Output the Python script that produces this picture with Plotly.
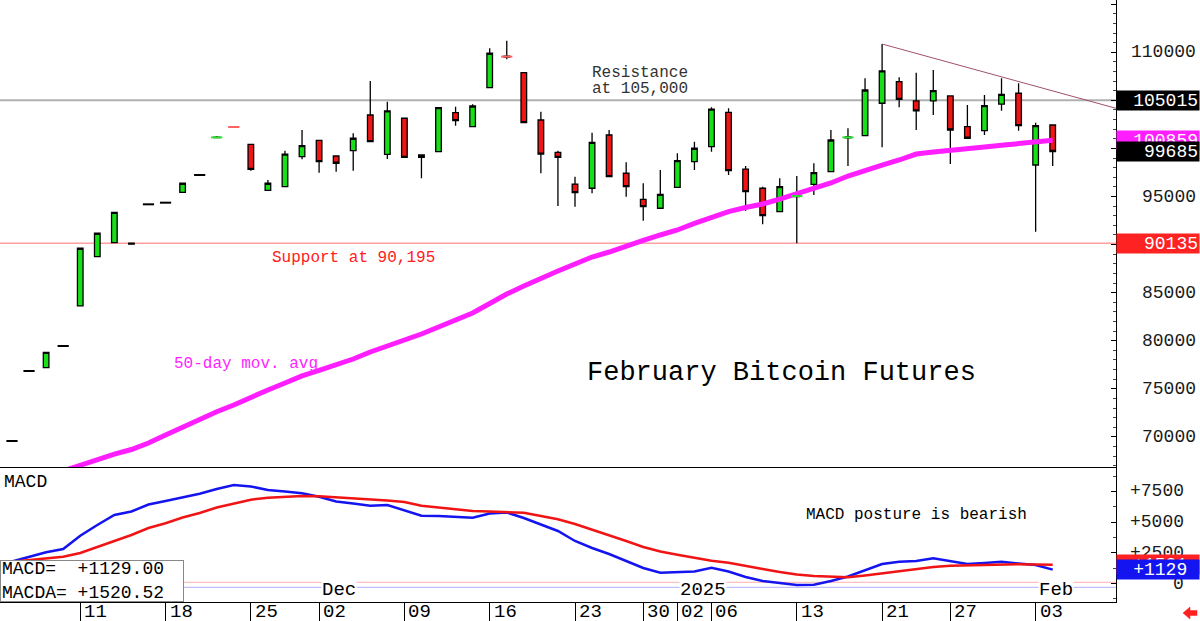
import plotly.graph_objects as go

# ---------------- data ----------------
dates = ["2024-11-05", "2024-11-06", "2024-11-07", "2024-11-08",
         "2024-11-11", "2024-11-12", "2024-11-13", "2024-11-14", "2024-11-15",
         "2024-11-18", "2024-11-19", "2024-11-20", "2024-11-21", "2024-11-22",
         "2024-11-25", "2024-11-26", "2024-11-27", "2024-11-29",
         "2024-12-02", "2024-12-03", "2024-12-04", "2024-12-05", "2024-12-06",
         "2024-12-09", "2024-12-10", "2024-12-11", "2024-12-12", "2024-12-13",
         "2024-12-16", "2024-12-17", "2024-12-18", "2024-12-19", "2024-12-20",
         "2024-12-23", "2024-12-24", "2024-12-26", "2024-12-27",
         "2024-12-30", "2024-12-31", "2025-01-02", "2025-01-03",
         "2025-01-06", "2025-01-07", "2025-01-08", "2025-01-09", "2025-01-10",
         "2025-01-13", "2025-01-14", "2025-01-15", "2025-01-16", "2025-01-17",
         "2025-01-21", "2025-01-22", "2025-01-23", "2025-01-24",
         "2025-01-27", "2025-01-28", "2025-01-29", "2025-01-30", "2025-01-31",
         "2025-02-03", "2025-02-04"]

opens = [69575, 76855, 77200, 79455,
         83620, 88740, 90200, 90150, 94190,
         94360, 95440, 97240, 101120, 102240,
         100430, 95650, 96020, 99140,
         100850, 99215, 99770, 103480, 99390,
         103140, 99320, 99660, 103720, 102260,
         106320, 109600, 107880, 102960, 99600,
         96300, 95860, 101400, 97420,
         94710, 93780, 95960, 98620,
         100180, 103760, 97860, 95860, 93420,
         95000, 96270, 97580, 101100, 101330,
         104700, 106940, 104940, 104940,
         105460, 102260, 101850, 104620, 105740,
         98280, 102440]
highs = [69575, 76855, 78800, 79455,
         89700, 91180, 93360, 90150, 94190,
         94360, 96380, 97240, 101300, 102250,
         100430, 96720, 99770, 101920,
         100850, 99215, 101580, 107015, 104860,
         103140, 99320, 104240, 104340, 104590,
         110420, 111200, 107880, 103820, 99770,
         97060, 101640, 101920, 98560,
         96380, 97760, 99500, 100700,
         104280, 104180, 98180, 96020, 96900,
         97140, 98460, 101920, 102100, 107300,
         110860, 107400, 107880, 108160,
         105460, 104520, 105560, 107300, 106780,
         102680, 102440]
lows = [69575, 76855, 77200, 79455,
        83620, 88740, 90200, 90030, 94190,
        94360, 95440, 97240, 101120, 102210,
        97690, 95650, 96020, 98870,
        97480, 97580, 97690, 100700, 98900,
        99080, 96900, 99660, 102370, 102260,
        106320, 109270, 102680, 97420, 94020,
        93940, 95340, 97060, 94980,
        92490, 93780, 95960, 97760,
        99660, 97240, 93530, 92110, 93360,
        90135, 95160, 97580, 98180, 101330,
        100120, 104280, 101920, 103480,
        98380, 101060, 101400, 103930, 101850,
        91340, 98180]
closes = [69575, 76855, 78800, 79455,
          89620, 91180, 93360, 90050, 94190,
          94360, 96380, 97240, 101180, 102220,
          97830, 96380, 99420, 100290,
          98620, 98460, 101060, 100700, 103900,
          99080, 99080, 104240, 102890, 104415,
          109900, 109500, 102680, 99420, 99080,
          95400, 100640, 97060, 96020,
          93940, 95230, 98730, 100020,
          104100, 97690, 95500, 93010, 96020,
          95100, 97480, 100880, 101200, 106080,
          108060, 105110, 103900, 106010,
          101920, 101060, 104450, 105630, 102370,
          102370, 99685]

ma50 = [None, None, None, 66460,
        67080, 67650, 68220, 68690, 69370,
        70200, 71030, 71760, 72620, 73320,
        74150, 74880, 75610, 76340,
        76910, 77480, 78100, 78830, 79510,
        80080, 80700, 81430, 82160, 82890,
        83870, 84860, 85700, 86530, 87250,
        87980, 88710, 89230, 89880,
        90430, 91000, 91520, 92200,
        92870, 93440, 93860, 94220, 94740,
        95315, 95890, 96410, 97130, 97760,
        98270, 98800, 99420, 99630,
        99840, 99995, 100150, 100330, 100510,
        100620, 100859]

macd = [1791, 2157, 2540, 2808,
        3891, 4762, 5576, 5861, 6431,
        6716, 7000, 7310, 7692, 8018,
        7896, 7611, 7489, 7350,
        7066, 6675, 6512, 6333, 6390,
        5983, 5519, 5495, 5454, 5356,
        5698, 5779, 5332, 4803, 4274,
        3460, 2890, 2401, 1832,
        1262, 879, 912, 977,
        1286, 977, 529, 204, 41,
        -122, -98, 204, 570, 1099,
        1587, 1775, 1832, 2051,
        1832, 1587, 1669, 1775, 1628,
        1506, 1129.00]
macda = [1775, 1913, 2076, 2182,
         2483, 2971, 3435, 3948, 4518,
         4900, 5372, 5739, 6186, 6528,
         6821, 6984, 7057, 7123,
         7106, 7025, 6943, 6846, 6764,
         6634, 6333, 6186, 6040, 5902,
         5853, 5820, 5755, 5495, 5226,
         4843, 4396, 3948, 3460,
         2971, 2605, 2344, 2076,
         1856, 1693, 1465, 1180, 936,
         733, 611, 529, 505, 651,
         830, 1018, 1221, 1343,
         1441, 1481, 1530, 1571, 1563,
         1538, 1520.52]

resistance_level = 105015
support_level = 90135
trend_start = ("2025-01-21", 110860)
trend_end_price = 104176

price_ticks = [70000, 75000, 80000, 85000, 90000, 95000, 100000, 105000, 110000]
macd_ticks = [0, 2500, 5000, 7500]
macd_tick_labels = ["0", "+2500", "+5000", "+7500"]

week_tick_dates = ["2024-11-11", "2024-11-18", "2024-11-25", "2024-12-02", "2024-12-09",
                   "2024-12-16", "2024-12-23", "2024-12-30", "2025-01-02", "2025-01-06",
                   "2025-01-13", "2025-01-21", "2025-01-27", "2025-02-03"]
week_tick_labels = ["11", "18", "25", "02", "09", "16", "23", "30", "02", "06",
                    "13", "21", "27", "03"]
month_dates = ["2024-12-02", "2025-01-02", "2025-02-03"]
month_labels = ["Dec", "2025", "Feb"]

# ---------------- styling ----------------
MONO = "Liberation Mono, DejaVu Sans Mono, monospace"
GREEN = "#18e018"
RED = "#f01414"
MAG = "#ff1eff"
BLUE = "#1414f0"

n = len(dates)
xi = list(range(n))
X_MIN, X_MAX = -0.703, 64.71
Y_MIN, Y_MAX = 66871, 115439
M_MIN, M_MAX = -1506, 9483
SPLIT = (602 - 467) / 602

fig = go.Figure()

flat = [i for i in xi if highs[i] == lows[i]]
up = [i for i in xi if highs[i] != lows[i] and closes[i] >= opens[i]]
down = [i for i in xi if highs[i] != lows[i] and closes[i] < opens[i]]
doji_up = [i for i in up if closes[i] - opens[i] < 150]
doji_dn = [i for i in down if opens[i] - closes[i] < 150 and i != 7]


def candles(idx, fill):
    style = dict(fillcolor=fill, line=dict(color="black", width=1.3))
    return go.Candlestick(
        x=[xi[i] for i in idx], open=[opens[i] for i in idx],
        high=[highs[i] for i in idx], low=[lows[i] for i in idx],
        close=[closes[i] for i in idx], increasing=style, decreasing=style,
        whiskerwidth=0, showlegend=False, hoverinfo="skip", xaxis="x", yaxis="y")


fig.add_trace(go.Scatter(x=xi, y=ma50, mode="lines", line=dict(color=MAG, width=5),
                         hoverinfo="skip", xaxis="x", yaxis="y"))
fig.add_trace(candles(up, GREEN))
fig.add_trace(candles(down, RED))


def dashes(idx, color, size, width):
    return go.Scatter(x=[xi[i] for i in idx], y=[(opens[i] + closes[i]) / 2 for i in idx],
                      mode="markers", marker=dict(symbol="line-ew", size=size,
                                                  line=dict(color=color, width=width)),
                      hoverinfo="skip", xaxis="x", yaxis="y")


fig.add_trace(dashes(flat, "black", 8, 2))
fig.add_trace(dashes(doji_up, "#30e030", 8, 2))
fig.add_trace(dashes(doji_dn, "#ff6060", 8, 2))

fig.add_trace(go.Scatter(x=xi, y=macd, mode="lines", line=dict(color=BLUE, width=2.5),
                         hoverinfo="skip", xaxis="x2", yaxis="y2"))
fig.add_trace(go.Scatter(x=xi, y=macda, mode="lines", line=dict(color=RED, width=2.5),
                         hoverinfo="skip", xaxis="x2", yaxis="y2"))

shapes = [
    dict(type="line", xref="paper", x0=0, x1=1, yref="y", y0=resistance_level, y1=resistance_level,
         line=dict(color="#b0b0b0", width=2), layer="below"),
    dict(type="line", xref="paper", x0=0, x1=1, yref="y", y0=support_level, y1=support_level,
         line=dict(color="#ffa0a0", width=1.5), layer="below"),
    dict(type="line", xref="x", x0=dates.index(trend_start[0]), x1=X_MAX, yref="y",
         y0=trend_start[1], y1=trend_end_price, line=dict(color="#a0506a", width=1)),
    dict(type="line", xref="paper", x0=0, x1=1, yref="y2", y0=100, y1=100,
         line=dict(color="#ffb0b0", width=1), layer="below"),
    dict(type="line", xref="paper", x0=0, x1=1, yref="y2", y0=-310, y1=-310,
         line=dict(color="#b0b0ff", width=1), layer="below"),
    # small red "back" arrow in the bottom-right corner
    dict(type="path", xref="paper", xsizemode="pixel", xanchor=1190 / 1116,
         yref="paper", ysizemode="pixel", yanchor=0,
         path="M -7,-11 L 0,-5 L 0,-8.5 L 7,-8.5 L 7,-13.5 L 0,-13.5 L 0,-17 Z",
         fillcolor="#ff2020", line=dict(color="#ff2020", width=0.5)),
]

ann = []
txt = dict(showarrow=False)
# price axis labels
for v in price_ticks:
    ann.append(dict(xref="paper", x=1, xanchor="right", xshift=82, yref="y", y=v,
                    text=str(v), font=dict(family=MONO, size=18, color="#1a1a1a"), **txt))
for v, t in zip(macd_ticks, macd_tick_labels):
    ann.append(dict(xref="paper", x=1, xanchor="right", xshift=70, yref="y2", y=v,
                    text=t, font=dict(family=MONO, size=18, color="#1a1a1a"), **txt))


def box(val, yref, text, bg, trail=""):
    return dict(xref="paper", x=1, xanchor="left", xshift=0, yref=yref, y=val, yanchor="middle",
                text=text + trail, bgcolor=bg, width=80, height=17, align="right", borderpad=1,
                font=dict(family=MONO, size=18, color="white"), **txt)


ann.append(box(resistance_level, "y", str(resistance_level), "black"))
ann.append(box(support_level, "y", str(support_level), "#ff2222"))
ann.append(box(ma50[-1], "y", str(int(ma50[-1])), MAG))
ann.append(box(closes[-1], "y", str(closes[-1]), "black"))
ann.append(box(macda[-1], "y2", "%+d" % round(macda[-1]), "#ff2222", "\u00a0"))
ann.append(box(macd[-1], "y2", "%+d" % round(macd[-1]), BLUE, "\u00a0"))

# chart texts
ann += [
    dict(xref="x", x=33.9, xanchor="left", yref="y", y=107850, text="Resistance",
         font=dict(family=MONO, size=16, color="#333333"), **txt),
    dict(xref="x", x=33.9, xanchor="left", yref="y", y=106180, text="at 105,000",
         font=dict(family=MONO, size=16, color="#333333"), **txt),
    dict(xref="x", x=15.1, xanchor="left", yref="y", y=88600, text="Support at 90,195",
         font=dict(family=MONO, size=16, color="#ff2020"), **txt),
    dict(xref="x", x=9.4, xanchor="left", yref="y", y=77580, text="50-day mov. avg",
         font=dict(family=MONO, size=16, color=MAG), **txt),
    dict(xref="x", x=33.6, xanchor="left", yref="y", y=76650, text="February Bitcoin Futures",
         font=dict(family=MONO, size=27, color="black"), **txt),
    dict(xref="x2", x=46.4, xanchor="left", yref="y2", y=5576, text="MACD posture is bearish",
         font=dict(family=MONO, size=16, color="black"), **txt),
    dict(xref="paper", x=0, xanchor="left", xshift=2, yref="y2 domain", y=1, yanchor="top",
         yshift=-3, text="MACD", font=dict(family=MONO, size=18, color="black"), **txt),
    dict(xref="paper", x=0, xanchor="left", yref="y2 domain", y=0, yanchor="bottom",
         text="MACD=\u00a0\u00a0+%.2f<br>MACDA=\u00a0%+.2f" % (macd[-1], macda[-1]),
         font=dict(family=MONO, size=18, color="black"), align="left", bgcolor="white",
         bordercolor="#888888", borderwidth=1, borderpad=1, width=180, height=38, **txt),
]
for d, t in zip(month_dates, month_labels):
    ann.append(dict(xref="x2", x=dates.index(d), xanchor="left", xshift=2, yref="y2 domain",
                    y=0.09, yanchor="middle", text=t, bgcolor="white", borderpad=0,
                    font=dict(family=MONO, size=19, color="black"), **txt))
for d, t in zip(week_tick_dates, week_tick_labels):
    ann.append(dict(xref="x2", x=dates.index(d), xanchor="left", xshift=2, yref="paper", y=0,
                    yanchor="top", yshift=3, text=t,
                    font=dict(family=MONO, size=19, color="black"), **txt))

axis_common = dict(showgrid=False, zeroline=False, showline=True, linecolor="black", linewidth=1)
fig.update_layout(
    width=1200, height=621, margin=dict(l=0, r=84, t=0, b=19),
    paper_bgcolor="white", plot_bgcolor="white", showlegend=False, boxgap=0.53,
    xaxis=dict(domain=[0, 1], anchor="y", range=[X_MIN, X_MAX], showticklabels=False,
               ticks="", rangeslider=dict(visible=False), **axis_common),
    yaxis=dict(domain=[SPLIT, 1], anchor="x", side="right", range=[Y_MIN, Y_MAX],
               showticklabels=False, ticks="inside", ticklen=5, tickcolor="black",
               tick0=0, dtick=5000,
               minor=dict(dtick=1000, ticks="inside", ticklen=3, tickcolor="#444444"),
               **axis_common),
    xaxis2=dict(domain=[0, 1], anchor="y2", range=[X_MIN, X_MAX], matches="x",
                tickmode="array", tickvals=[dates.index(d) for d in week_tick_dates],
                ticks="outside", ticklen=19, tickcolor="black", showticklabels=False,
                rangeslider=dict(visible=False), **axis_common),
    yaxis2=dict(domain=[0, SPLIT], anchor="x2", side="right", range=[M_MIN, M_MAX],
                showticklabels=False, ticks="inside", ticklen=5, tickcolor="black",
                tickmode="array", tickvals=macd_ticks,
                minor=dict(tickmode="linear", tick0=0, dtick=1250, ticks="inside", ticklen=3,
                           tickcolor="#444444"),
                **axis_common),
    shapes=shapes, annotations=ann,
)

fig.write_html("out.html")
